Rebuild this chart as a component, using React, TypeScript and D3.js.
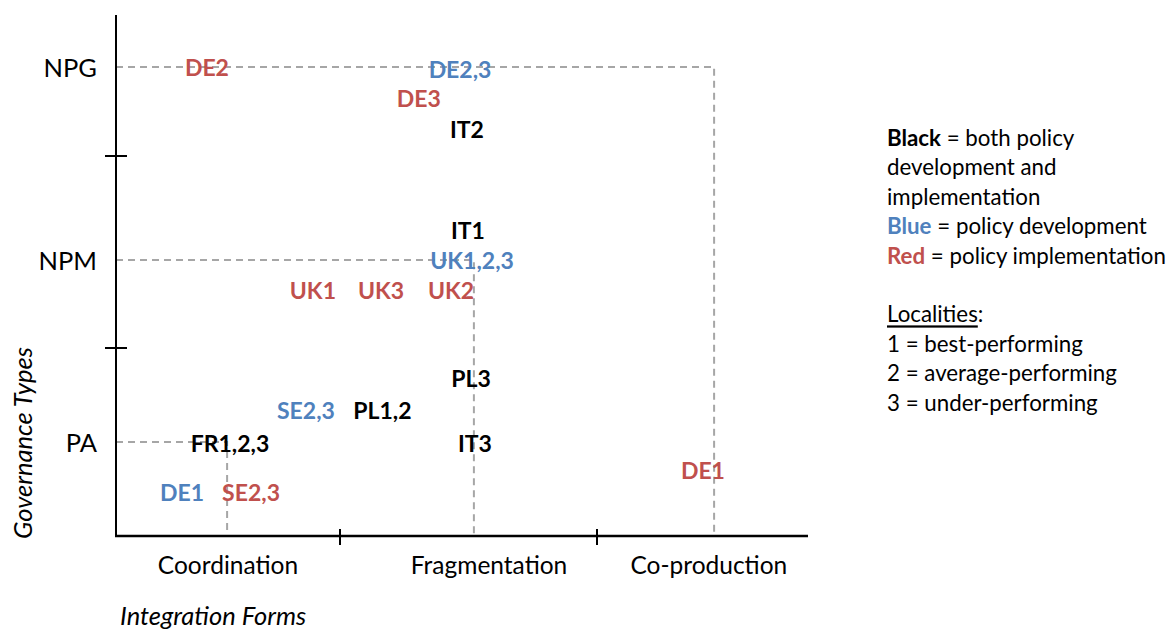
import React from "react";
import * as d3 from "d3";

// ---- data ----
const integrationForms = ["Coordination", "Fragmentation", "Co-production"];
const integrationFormPos = [0.5, 1.58, 2.53];
const governanceTypes = ["PA", "NPM", "NPG"];
const governanceTypePos = [0.5, 1.458, 2.464];
const xTicks = [1, 2];
const yTicks = [1, 2];

// each label: text, integration-form position (x), governance-type position (y), role
const labelTexts = ["DE2", "DE2,3", "DE3", "IT2", "IT1", "UK1,2,3", "UK1", "UK3", "UK2", "PL3", "SE2,3", "PL1,2", "FR1,2,3", "IT3", "DE1", "SE2,3", "DE1"];
const labelX = [0.406, 1.467, 1.307, 1.494, 1.498, 1.514, 0.879, 1.16, 1.432, 1.51, 0.848, 1.165, 0.509, 1.525, 0.295, 0.603, 2.502];
const labelY = [2.464, 2.455, 2.30, 2.14, 1.615, 1.458, 1.30, 1.30, 1.30, 0.84, 0.67, 0.67, 0.495, 0.495, 0.234, 0.234, 0.35];
const labelRole = ["impl", "dev", "impl", "both", "both", "dev", "impl", "impl", "impl", "both", "dev", "both", "both", "both", "dev", "impl", "impl"];

// dashed guides: corner (x, y) of each type's reference path
const guideX = [0.496, 1.521, 2.555];
const guideY = [0.5, 1.458, 2.464];

const legendLines = [
  [{ t: "Black", c: "both", b: true }, { t: " = both policy" }],
  [{ t: "development and" }],
  [{ t: "implementation" }],
  [{ t: "Blue", c: "dev", b: true }, { t: " = policy development" }],
  [{ t: "Red", c: "impl", b: true }, { t: " = policy implementation" }],
  [],
  [{ t: "Localities", u: true }, { t: ":" }],
  [{ t: "1 = best-performing" }],
  [{ t: "2 = average-performing" }],
  [{ t: "3 = under-performing" }],
];

const roleColor: Record<string, string> = { both: "#000000", dev: "#4f81bd", impl: "#c0504d" };

const W = 1174;
const H = 631;
const FONT = "Lato, 'Open Sans', sans-serif";

export default function App() {
  const x = d3.scaleLinear().domain([0, 1, 2, 3]).range([116, 340, 597, 808]);
  const y = d3.scaleLinear().domain([0, 1, 2, 3]).range([536, 348, 156, -36]);
  const yTop = 2.734;
  const line = d3.line<[number, number]>().x((d) => x(d[0])).y((d) => y(d[1]));

  return (
    <svg width={W} height={H} style={{ position: "absolute", left: 0, top: 0, background: "#fff" }} fontFamily={FONT}>
      {/* dashed guides */}
      {guideX.map((gx, i) => (
        <path
          key={"g" + i}
          d={line([[0, guideY[i]], [gx, guideY[i]], [gx, 0]]) || ""}
          fill="none"
          stroke="#a6a6a6"
          strokeWidth={2}
          strokeDasharray="7,5"
        />
      ))}
      {/* axes */}
      <line x1={x(0)} x2={x(0)} y1={y(0) + 1} y2={y(yTop)} stroke="#000" strokeWidth={2} />
      <line x1={x(0) - 1} x2={x(3)} y1={y(0)} y2={y(0)} stroke="#000" strokeWidth={2.5} />
      {yTicks.map((t) => (
        <line key={"yt" + t} x1={x(0) - 11} x2={x(0) + 11} y1={y(t)} y2={y(t)} stroke="#000" strokeWidth={2} />
      ))}
      {xTicks.map((t) => (
        <line key={"xt" + t} x1={x(t)} x2={x(t)} y1={y(0) - 7} y2={y(0) + 9} stroke="#000" strokeWidth={2} />
      ))}
      {/* category labels */}
      {governanceTypes.map((g, i) => (
        <text key={g} x={97} y={y(governanceTypePos[i])} textAnchor="end" dominantBaseline="central" fontSize={25.5}>
          {g}
        </text>
      ))}
      {integrationForms.map((f, i) => (
        <text key={f} x={x(integrationFormPos[i])} y={564} textAnchor="middle" dominantBaseline="central" fontSize={24.5}>
          {f}
        </text>
      ))}
      {/* axis titles */}
      <text x={120} y={615} dominantBaseline="central" fontStyle="italic" fontSize={25.5}>
        Integration Forms
      </text>
      <text
        transform={`translate(22,443) rotate(-90)`}
        textAnchor="middle"
        dominantBaseline="central"
        fontStyle="italic"
        fontSize={25.5}
      >
        Governance Types
      </text>
      {/* point labels */}
      {labelTexts.map((t, i) => (
        <text
          key={"l" + i}
          x={x(labelX[i])}
          y={y(labelY[i])}
          textAnchor="middle"
          dominantBaseline="central"
          fontWeight="bold"
          fontSize={23}
          fill={roleColor[labelRole[i]]}
        >
          {t}
        </text>
      ))}
      {/* legend */}
      {legendLines.map((ln, i) => (
        <text key={"lg" + i} x={887} y={137 + i * 29.4} dominantBaseline="central" fontSize={22.3}>
          {ln.map((s: any, j: number) => (
            <tspan
              key={j}
              fontWeight={s.b ? "bold" : "normal"}
              fill={s.c ? roleColor[s.c] : "#000"}
              textDecoration={s.u ? "underline" : undefined}
            >
              {s.t}
            </tspan>
          ))}
        </text>
      ))}
    </svg>
  );
}
